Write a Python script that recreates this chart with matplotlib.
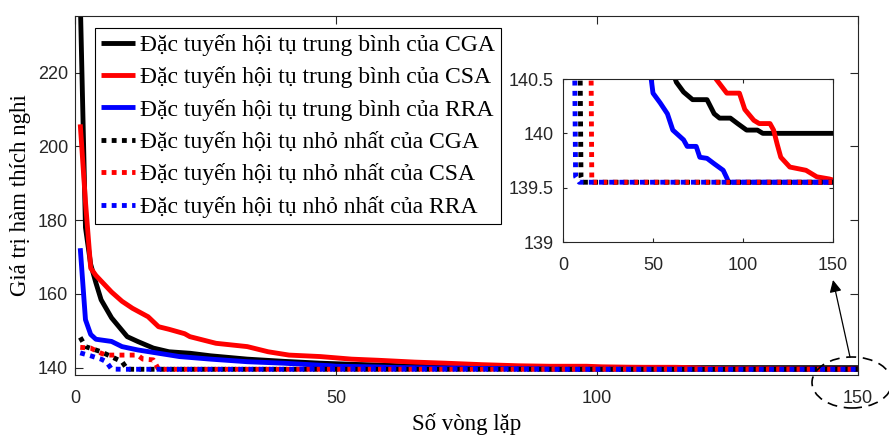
import matplotlib
matplotlib.use("Agg")
import matplotlib.pyplot as plt
from matplotlib.patches import Ellipse, FancyArrowPatch

# mean convergence curves (iteration)
cga_mean_it = [1, 2, 3, 4, 5, 7, 10, 12, 15, 18, 22, 26, 33, 40, 47, 53, 58, 63, 67, 72, 80, 84, 87, 93, 97, 102, 108, 111, 150]
cga_mean = [240, 178, 168, 163, 158.4, 153.5, 148.4, 147.1, 145.3, 144.3, 143.9, 143.2, 142.3, 141.7, 141.2, 140.9,
            140.7, 140.47, 140.38, 140.31, 140.31, 140.18, 140.14, 140.14, 140.09, 140.03, 140.03, 140.0, 140.0]

csa_mean_it = [1, 2, 3, 4, 5, 7, 9, 11, 14, 16, 18, 21, 22, 27, 33, 37, 41, 47, 53, 58, 65, 71, 78, 85, 91, 98,
               101, 106, 109, 115, 117, 119, 121, 126, 135, 141, 148, 150]
csa_mean = [206, 185, 167, 165, 163.5, 160.5, 158, 156.1, 153.8, 151.1, 150.4, 149.2, 148.4, 146.6, 145.7, 144.3,
            143.4, 143.0, 142.3, 142.0, 141.5, 141.2, 140.8, 140.5, 140.37, 140.37, 140.22, 140.12, 140.09, 140.09,
            140.03, 139.9, 139.78, 139.69, 139.66, 139.6, 139.58, 139.57]

rra_mean_it = [1, 2, 3, 4, 7, 9, 12, 16, 20, 26, 33, 40, 45, 49, 50, 54, 58, 61, 67, 69, 74, 76, 80, 84, 89, 91, 92, 150]
rra_mean = [172.4, 153, 149, 147.7, 147.1, 145.7, 144.8, 143.9, 143.0, 142.3, 141.6, 141.2, 140.8, 140.5, 140.37,
            140.28, 140.18, 140.03, 139.94, 139.88, 139.88, 139.78, 139.77, 139.72, 139.66, 139.59, 139.55, 139.55]

# best (minimum) convergence curves
cga_min_it = [1, 2, 5, 9, 10, 11, 150]
cga_min = [148.2, 145.7, 144.3, 141.6, 139.6, 139.55, 139.55]

csa_min_it = [1, 3, 5, 6, 12, 13, 15, 16, 150]
csa_min = [145.5, 145.3, 143.9, 143.4, 143.4, 142.3, 142.1, 139.55, 139.55]

rra_min_it = [1, 3, 5, 6, 7, 9, 150]
rra_min = [144.0, 143.2, 142.3, 141.6, 139.6, 139.55, 139.55]

labels = [
    "Đặc tuyến hội tụ trung bình của CGA",
    "Đặc tuyến hội tụ trung bình của CSA",
    "Đặc tuyến hội tụ trung bình của RRA",
    "Đặc tuyến hội tụ nhỏ nhất của CGA",
    "Đặc tuyến hội tụ nhỏ nhất của CSA",
    "Đặc tuyến hội tụ nhỏ nhất của RRA",
]

serif = ["Liberation Serif", "DejaVu Serif"]
sans = ["Liberation Sans", "DejaVu Sans"]
grey = "#262626"
dots = (0, (1, 1.1))

series = [
    (cga_mean_it, cga_mean, "black", "-"),
    (csa_mean_it, csa_mean, "red", "-"),
    (rra_mean_it, rra_mean, "blue", "-"),
    (cga_min_it, cga_min, "black", dots),
    (csa_min_it, csa_min, "red", dots),
    (rra_min_it, rra_min, "blue", dots),
]


def style_axes(ax, ticklen, ypad):
    for s in ax.spines.values():
        s.set_color(grey)
        s.set_linewidth(0.8)
    ax.tick_params(direction="in", top=True, right=True, length=ticklen, width=0.8, color=grey,
                   labelcolor=grey, labelsize=13)
    ax.tick_params(axis="x", pad=11)
    ax.tick_params(axis="y", pad=ypad)
    for t in ax.get_xticklabels() + ax.get_yticklabels():
        t.set_family(sans)


fig = plt.figure(figsize=(8.89, 4.37), dpi=100)
ax = fig.add_axes([0.0844, 0.1419, 0.8807, 0.8215])

for it, val, c, ls in series:
    ax.plot(it, val, color=c, linestyle=ls, lw=3.5, solid_capstyle="butt", dash_capstyle="butt")

ax.set_xlim(0, 150)
ax.set_ylim(138, 235.4)
ax.set_xticks([0, 50, 100, 150])
ax.set_yticks([140, 160, 180, 200, 220])
style_axes(ax, 6, 5)
ax.set_xlabel("Số vòng lặp", family=serif, fontsize=16.5, labelpad=4)
ax.set_ylabel("Giá trị hàm thích nghi", family=serif, fontsize=16.5, labelpad=5)

leg = ax.legend(labels, loc="upper left", bbox_to_anchor=(0.0255, 0.9666), borderaxespad=0,
                prop={"family": serif, "size": 17}, fancybox=False, framealpha=1,
                edgecolor="black", handlelength=1.45, handletextpad=0.2, borderpad=0.25,
                labelspacing=0.44)
leg.get_frame().set_linewidth(0.8)

# zoomed inset near the optimum
ins = fig.add_axes([0.6333, 0.4462, 0.3037, 0.373])
for it, val, c, ls in series:
    ins.plot(it, val, color=c, linestyle=ls, lw=3.5, solid_capstyle="butt", dash_capstyle="butt")
ins.set_xlim(0, 150)
ins.set_ylim(139, 140.5)
ins.set_xticks([0, 50, 100, 150])
ins.set_yticks([139, 139.5, 140, 140.5])
ins.set_yticklabels(["139", "139.5", "140", "140.5"])
style_axes(ins, 3, 7)

# dashed ellipse at the end of the main curves + arrow to the inset
tr = fig.dpi_scale_trans
fig.add_artist(Ellipse((8.52, 0.545), 0.80, 0.51, transform=tr, fill=False, ec="black",
                       lw=1.2, ls=(0, (6, 4)), clip_on=False))
fig.add_artist(FancyArrowPatch((8.50, 0.80), (8.33, 1.57), transform=tr, arrowstyle="-|>",
                               mutation_scale=18, color="black", lw=0.9, shrinkA=0, shrinkB=0))

fig.savefig("out.png", dpi=100)
